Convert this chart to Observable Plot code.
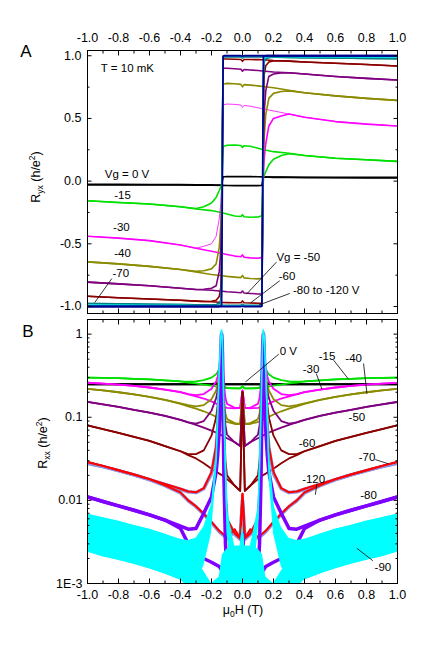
<!DOCTYPE html>
<html><head><meta charset="utf-8">
<script src="https://cdn.jsdelivr.net/npm/d3@7"></script>
<script src="https://cdn.jsdelivr.net/npm/@observablehq/plot@0.6"></script>
<style>
body{margin:0;background:#fff;}
#fig{position:relative;width:436px;height:648px;background:#fff;}
#fig svg{display:block;}
</style></head><body><div id="fig"></div>
<script>
// ---------------- tick values / labels ----------------
const xMajor = [-1.0, -0.8, -0.6, -0.4, -0.2, 0.0, 0.2, 0.4, 0.6, 0.8, 1.0];
const xMinor = [-0.9, -0.7, -0.5, -0.3, -0.1, 0.1, 0.3, 0.5, 0.7, 0.9];
const yMajorA = [-1.0, -0.5, 0.0, 0.5, 1.0];
const yMinorA = [-0.75, -0.25, 0.25, 0.75];
const yMajorB = [0.001, 0.01, 0.1, 1];
const yMajorBLabels = ["1E-3", "0.01", "0.1", "1"];
const yMinorB = [0.002,0.003,0.004,0.005,0.006,0.007,0.008,0.009,
                 0.02,0.03,0.04,0.05,0.06,0.07,0.08,0.09,
                 0.2,0.3,0.4,0.5,0.6,0.7,0.8,0.9];

// ---------------- panel A : Ryx (h/e^2) ----------------
const XA_dn = [-1, -0.8, -0.6, -0.4, -0.3, -0.25, -0.2, -0.17, -0.15, -0.14, -0.135, -0.13, -0.125, -0.12, -0.1, -0.05, -0.01, 0, 0.01, 0.05, 0.1, 0.13, 0.2, 0.3, 0.4, 0.6, 0.8, 1];
const XA_up = [1, 0.8, 0.6, 0.4, 0.3, 0.25, 0.2, 0.17, 0.15, 0.14, 0.135, 0.13, 0.125, 0.12, 0.1, 0.05, 0.01, 0, -0.01, -0.05, -0.1, -0.13, -0.2, -0.3, -0.4, -0.6, -0.8, -1];

const A_black_dn = [-0.025, -0.026, -0.027, -0.028, -0.029, -0.03, -0.03, -0.031, -0.032, -0.032, -0.032, 0, 0.035, 0.035, 0.036, 0.036, 0.036, 0.036, 0.036, 0.036, 0.035, 0.034, 0.033, 0.032, 0.031, 0.03, 0.03, 0.03];
const A_black_up = [0.025, 0.026, 0.027, 0.028, 0.029, 0.03, 0.03, 0.031, 0.032, 0.032, 0.032, 0, -0.035, -0.035, -0.036, -0.036, -0.036, -0.036, -0.036, -0.036, -0.035, -0.034, -0.033, -0.032, -0.031, -0.03, -0.03, -0.03];
const A_green_dn = [-0.157, -0.17, -0.183, -0.205, -0.218, -0.205, -0.175, -0.13, -0.075, -0.045, -0.03, 0.1, 0.27, 0.278, 0.286, 0.288, 0.284, 0.268, 0.282, 0.278, 0.262, 0.252, 0.235, 0.222, 0.205, 0.183, 0.17, 0.157];
const A_green_up = [0.157, 0.17, 0.183, 0.205, 0.218, 0.205, 0.175, 0.13, 0.075, 0.045, 0.03, -0.1, -0.27, -0.278, -0.286, -0.288, -0.284, -0.268, -0.282, -0.278, -0.262, -0.252, -0.235, -0.222, -0.205, -0.183, -0.17, -0.157];
const A_magenta_dn = [-0.44, -0.455, -0.475, -0.51, -0.535, -0.52, -0.5, -0.44, -0.3, -0.18, -0.06, 0.3, 0.6, 0.61, 0.615, 0.612, 0.607, 0.588, 0.603, 0.598, 0.585, 0.577, 0.56, 0.535, 0.51, 0.475, 0.455, 0.44];
const A_magenta_up = [0.44, 0.455, 0.475, 0.51, 0.535, 0.52, 0.5, 0.44, 0.3, 0.18, 0.06, -0.3, -0.6, -0.61, -0.615, -0.612, -0.607, -0.588, -0.603, -0.598, -0.585, -0.577, -0.56, -0.535, -0.51, -0.475, -0.455, -0.44];
const A_olive_dn = [-0.644, -0.66, -0.68, -0.705, -0.72, -0.715, -0.70, -0.66, -0.53, -0.35, -0.15, 0.3, 0.77, 0.775, 0.78, 0.777, 0.772, 0.752, 0.77, 0.766, 0.76, 0.755, 0.745, 0.725, 0.705, 0.68, 0.66, 0.644];
const A_olive_up = [0.644, 0.66, 0.68, 0.705, 0.72, 0.715, 0.70, 0.66, 0.53, 0.35, 0.15, -0.3, -0.77, -0.775, -0.78, -0.777, -0.772, -0.752, -0.77, -0.766, -0.76, -0.755, -0.745, -0.725, -0.705, -0.68, -0.66, -0.644];
const A_purple_dn = [-0.806, -0.82, -0.835, -0.855, -0.864, -0.862, -0.855, -0.835, -0.72, -0.55, -0.3, 0.3, 0.895, 0.9, 0.9, 0.896, 0.892, 0.877, 0.89, 0.887, 0.882, 0.878, 0.87, 0.864, 0.855, 0.835, 0.82, 0.806];
const A_purple_up = [0.806, 0.82, 0.835, 0.855, 0.864, 0.862, 0.855, 0.835, 0.72, 0.55, 0.3, -0.3, -0.895, -0.9, -0.9, -0.896, -0.892, -0.877, -0.89, -0.887, -0.882, -0.878, -0.87, -0.864, -0.855, -0.835, -0.82, -0.806];
const A_darkred_dn = [-0.918, -0.93, -0.94, -0.95, -0.957, -0.96, -0.958, -0.95, -0.92, -0.85, -0.6, 0.3, 0.972, 0.974, 0.974, 0.972, 0.97, 0.956, 0.97, 0.97, 0.969, 0.968, 0.962, 0.957, 0.95, 0.94, 0.93, 0.918];
const A_darkred_up = [0.918, 0.93, 0.94, 0.95, 0.957, 0.96, 0.958, 0.95, 0.92, 0.85, 0.6, -0.3, -0.972, -0.974, -0.974, -0.972, -0.97, -0.956, -0.97, -0.97, -0.969, -0.968, -0.962, -0.957, -0.95, -0.94, -0.93, -0.918];
const A_teal_dn = [-0.976, -0.979, -0.982, -0.985, -0.987, -0.988, -0.988, -0.985, -0.975, -0.95, -0.8, 0.3, 0.99, 0.991, 0.991, 0.99, 0.99, 0.982, 0.99, 0.99, 0.99, 0.99, 0.988, 0.987, 0.985, 0.982, 0.979, 0.976];
const A_teal_up = [0.976, 0.979, 0.982, 0.985, 0.987, 0.988, 0.988, 0.985, 0.975, 0.95, 0.8, -0.3, -0.99, -0.991, -0.991, -0.99, -0.99, -0.982, -0.99, -0.99, -0.99, -0.99, -0.988, -0.987, -0.985, -0.982, -0.979, -0.976];
const A_cyan_dn = [-0.99, -0.99, -0.991, -0.992, -0.993, -0.993, -0.993, -0.992, -0.99, -0.98, -0.9, 0.3, 0.995, 0.995, 0.995, 0.995, 0.995, 0.99, 0.995, 0.995, 0.995, 0.995, 0.994, 0.993, 0.992, 0.991, 0.99, 0.99];
const A_cyan_up = [0.99, 0.99, 0.991, 0.992, 0.993, 0.993, 0.993, 0.992, 0.99, 0.98, 0.9, -0.3, -0.995, -0.995, -0.995, -0.995, -0.995, -0.99, -0.995, -0.995, -0.995, -0.995, -0.994, -0.993, -0.992, -0.991, -0.99, -0.99];
const A_navy_dn = [-1, -1, -1, -1, -1, -1, -1, -1, -1, -0.998, -0.99, 0, 0.998, 1, 1, 1, 1, 0.998, 1, 1, 1, 1, 1, 1, 1, 1, 1, 1];
const A_navy_up = [1, 1, 1, 1, 1, 1, 1, 1, 1, 0.998, 0.99, 0, -0.998, -1, -1, -1, -1, -0.998, -1, -1, -1, -1, -1, -1, -1, -1, -1, -1];

const annotA = [
  {x: -0.914, y: 0.90, t: "T = 10 mK"},
  {x: -0.888, y: 0.056, t: "Vg = 0 V"},
  {x: -0.828, y: -0.112, t: "-15"},
  {x: -0.835, y: -0.372, t: "-30"},
  {x: -0.828, y: -0.572, t: "-40"},
  {x: -0.839, y: -0.737, t: "-70"},
  {x: 0.219, y: -0.606, t: "Vg = -50"},
  {x: 0.234, y: -0.758, t: "-60"},
  {x: 0.326, y: -0.870, t: "-80 to -120 V"}
];
const leadersA = [
  {x1: -0.843, y1: -0.777, x2: -0.953, y2: -0.968},
  {x1: 0.219, y1: -0.646, x2: 0.026, y2: -0.902},
  {x1: 0.24, y1: -0.795, x2: 0.052, y2: -0.971},
  {x1: 0.305, y1: -0.896, x2: 0.105, y2: -0.989}
];

// ---------------- panel B : Rxx (h/e^2), log ----------------
const XB_dn = [-1, -0.9, -0.8, -0.7, -0.6, -0.5, -0.4, -0.35, -0.3, -0.25, -0.2, -0.17, -0.16, -0.15, -0.14, -0.135, -0.13, -0.12, -0.11, -0.1, -0.05, -0.015, 0, 0.015, 0.05, 0.1, 0.13, 0.15, 0.2, 0.25, 0.3, 0.35, 0.4, 0.5, 0.6, 0.7, 0.8, 0.9, 1];
const XB_up = [1, 0.9, 0.8, 0.7, 0.6, 0.5, 0.4, 0.35, 0.3, 0.25, 0.2, 0.17, 0.16, 0.15, 0.14, 0.135, 0.13, 0.12, 0.11, 0.1, 0.05, 0.015, 0, -0.015, -0.05, -0.1, -0.13, -0.15, -0.2, -0.25, -0.3, -0.35, -0.4, -0.5, -0.6, -0.7, -0.8, -0.9, -1];

const B_black = [0.25, 0.25, 0.25, 0.25, 0.25, 0.25, 0.25, 0.25, 0.25, 0.25,
  0.252, 0.255, 0.258, 0.262, 0.268, 0.272, 0.262, 0.252, 0.25,
  0.25, 0.25, 0.25, 0.25, 0.25, 0.25, 0.25, 0.25, 0.25, 0.25, 0.25,
  0.25, 0.25, 0.25, 0.25, 0.25, 0.25, 0.25, 0.25, 0.25];
const B_green = [0.30, 0.298, 0.295, 0.29, 0.285, 0.278, 0.27, 0.268, 0.27, 0.28,
  0.30, 0.33, 0.35, 0.38, 0.42, 0.43, 0.4, 0.25, 0.23, 0.225,
  0.222, 0.222, 0.235, 0.222, 0.222, 0.224, 0.226, 0.23, 0.24, 0.247,
  0.255, 0.262, 0.27, 0.278, 0.285, 0.29, 0.295, 0.298, 0.30];
const B_magenta = [0.26, 0.254, 0.247, 0.238, 0.228, 0.215, 0.2, 0.19, 0.185, 0.19,
  0.22, 0.27, 0.31, 0.4, 0.6, 0.68, 0.55, 0.25, 0.17, 0.145,
  0.13, 0.13, 0.21, 0.13, 0.128, 0.13, 0.135, 0.14, 0.155, 0.168,
  0.178, 0.188, 0.2, 0.215, 0.228, 0.238, 0.247, 0.254, 0.26];
const B_olive = [0.22, 0.21, 0.2, 0.188, 0.176, 0.162, 0.147, 0.14, 0.135, 0.14,
  0.165, 0.21, 0.25, 0.32, 0.48, 0.55, 0.45, 0.18, 0.11, 0.095,
  0.085, 0.083, 0.2, 0.083, 0.083, 0.088, 0.093, 0.097, 0.108, 0.118,
  0.127, 0.135, 0.145, 0.162, 0.176, 0.188, 0.2, 0.21, 0.22];
const B_purple = [0.153, 0.143, 0.133, 0.123, 0.114, 0.104, 0.093, 0.087, 0.084, 0.09,
  0.12, 0.17, 0.21, 0.3, 0.6, 0.85, 0.7, 0.15, 0.08, 0.062,
  0.05, 0.045, 0.2, 0.045, 0.05, 0.056, 0.06, 0.063, 0.069, 0.075,
  0.081, 0.087, 0.093, 0.104, 0.114, 0.123, 0.133, 0.143, 0.153];
const B_darkred = [0.08, 0.072, 0.065, 0.058, 0.052, 0.045, 0.039, 0.036, 0.036, 0.04,
  0.06, 0.1, 0.14, 0.25, 0.6, 0.95, 0.8, 0.1, 0.03, 0.02,
  0.015, 0.013, 0.2, 0.013, 0.015, 0.018, 0.02, 0.021, 0.024, 0.028,
  0.032, 0.035, 0.039, 0.045, 0.052, 0.058, 0.065, 0.072, 0.08];
const B_lavender = [0.028, 0.0255, 0.0228, 0.0203, 0.0178, 0.0156, 0.0136, 0.0127, 0.0124, 0.0138,
  0.021, 0.043, 0.075, 0.19, 0.65, 1.0, 0.75, 0.045, 0.011, 0.0058,
  0.0039, 0.0034, 0.01, 0.0034, 0.0042, 0.0035, 0.0039, 0.0042, 0.0054, 0.0068,
  0.0084, 0.0099, 0.0123, 0.015, 0.0178, 0.0203, 0.0228, 0.0255, 0.028];
const B_red = [0.029, 0.026, 0.023, 0.0205, 0.018, 0.0158, 0.0138, 0.0128, 0.0125, 0.014,
  0.022, 0.045, 0.08, 0.2, 0.7, 1.05, 0.8, 0.05, 0.012, 0.006,
  0.004, 0.0035, 0.012, 0.0035, 0.0045, 0.0036, 0.004, 0.0043, 0.0055, 0.0069,
  0.0085, 0.01, 0.0125, 0.0152, 0.018, 0.0205, 0.023, 0.026, 0.029];
const B_violet = [0.011, 0.0097, 0.0086, 0.0076, 0.0067, 0.0058, 0.0049, 0.0045, 0.0046, 0.007,
  0.011, 0.022, 0.035, 0.07, 0.4, 1.0, 0.6, 0.02, 0.003, 0.0015,
  0.0012, 0.0012, 0.004, 0.0012, 0.0012, 0.0013, 0.0014, 0.0016, 0.0018, 0.002,
  0.0022, 0.003, 0.0046, 0.0058, 0.0067, 0.0076, 0.0086, 0.0097, 0.011];
const B_cyan = [0.0052, 0.0047, 0.0043, 0.0039, 0.0035, 0.003, 0.0026, 0.0025, 0.0027, 0.0036,
  0.0075, 0.03, 0.1, 0.35, 0.95, 1.12, 0.9, 0.12, 0.025, 0.006,
  0.0016, 0.0015, 0.004, 0.0015, 0.0015, 0.0014, 0.0013, 0.0009, 0.0008, 0.0011,
  0.0015, 0.002, 0.0025, 0.003, 0.0035, 0.0039, 0.0043, 0.0047, 0.0052];
const B_cyanHi = [0.0068, 0.0062, 0.0056, 0.005, 0.0045, 0.0039, 0.0034, 0.0033, 0.0035, 0.0048,
  0.009, 0.035, 0.11, 0.38, 1.0, 1.15, 0.95, 0.14, 0.03, 0.008,
  0.0028, 0.0028, 0.005, 0.0028, 0.0028, 0.0026, 0.0022, 0.0012, 0.001, 0.0014,
  0.002, 0.0026, 0.0033, 0.0039, 0.0045, 0.005, 0.0056, 0.0062, 0.0068];
const B_cyanLo = [0.0024, 0.0021, 0.0019, 0.0017, 0.0015, 0.0013, 0.0011, 0.001, 0.0011, 0.0016,
  0.004, 0.02, 0.08, 0.3, 0.9, 1.08, 0.85, 0.1, 0.018, 0.004,
  0.0006, 0.0006, 0.0008, 0.0006, 0.0006, 0.0006, 0.0006, 0.0005, 0.0005, 0.0006,
  0.0007, 0.0009, 0.0011, 0.0013, 0.0015, 0.0017, 0.0019, 0.0021, 0.0024];

const annotB = [
  {x: 0.545, y: 0.548, t: "-15"},
  {x: 0.442, y: 0.382, t: "-30"},
  {x: 0.717, y: 0.518, t: "-40"},
  {x: 0.738, y: 0.100, t: "-50"},
  {x: 0.416, y: 0.048, t: "-60"},
  {x: 0.803, y: 0.033, t: "-70"},
  {x: 0.459, y: 0.0178, t: "-120"},
  {x: 0.813, y: 0.0114, t: "-80"},
  {x: 0.906, y: 0.00156, t: "-90"}
];
const annotB0 = [{x: 0.240, y: 0.624, t: "0 V"}];
const leadersB = [
  {x1: 0.234, y1: 0.574, x2: 0.019, y2: 0.266},
  {x1: 0.588, y1: 0.486, x2: 0.684, y2: 0.287},
  {x1: 0.476, y1: 0.336, x2: 0.513, y2: 0.217},
  {x1: 0.781, y1: 0.443, x2: 0.803, y2: 0.192},
  {x1: 0.856, y1: 0.031, x2: 0.942, y2: 0.0275},
  {x1: 0.48, y1: 0.0158, x2: 0.47, y2: 0.0117},
  {x1: 0.841, y1: 0.00188, x2: 0.738, y2: 0.00265}
];

// ---------------- build ----------------
const FONT = "'Liberation Sans', Arial, Helvetica, sans-serif";
const sweep = (xs, ys) => xs.map((x, i) => ({x, y: ys[i]}));
const fmt1 = d => d.toFixed(1);
const blank = () => "";

const seriesA = [
  {c: "#000000", dn: A_black_dn, up: A_black_up, wd: 1.6, wu: 1.6},
  {c: "#00e000", dn: A_green_dn, up: A_green_up, wd: 1.6, wu: 1.6},
  {c: "#ff00ff", dn: A_magenta_dn, up: A_magenta_up, wd: 0.8, wu: 1.6},
  {c: "#8b8b00", dn: A_olive_dn, up: A_olive_up, wd: 1.6, wu: 1.6},
  {c: "#800080", dn: A_purple_dn, up: A_purple_up, wd: 1.6, wu: 1.6},
  {c: "#8b0000", dn: A_darkred_dn, up: A_darkred_up, wd: 1.6, wu: 1.6},
  {c: "#008080", dn: A_teal_dn, up: A_teal_up, wd: 1.6, wu: 1.6},
  {c: "#00e0e0", dn: A_cyan_dn, up: A_cyan_up, wd: 1.4, wu: 1.4},
  {c: "#000090", dn: A_navy_dn, up: A_navy_up, wd: 1.8, wu: 1.8}
];

function frameTicks(xTicksMaj, xTicksMin, yMaj, yMin) {
  const m = [];
  for (const a of ["top", "bottom"]) {
    m.push(Plot.axisX({anchor: a, ticks: xTicksMaj, tickSize: -4.5, tickFormat: blank, label: null}));
    m.push(Plot.axisX({anchor: a, ticks: xTicksMin, tickSize: -2.5, tickFormat: blank, label: null}));
  }
  for (const a of ["left", "right"]) {
    m.push(Plot.axisY({anchor: a, ticks: yMaj, tickSize: -4.5, tickFormat: blank, label: null}));
    m.push(Plot.axisY({anchor: a, ticks: yMin, tickSize: -2.5, tickFormat: blank, label: null}));
  }
  return m;
}

const marksA = [];
for (const s of seriesA) {
  marksA.push(Plot.line(sweep(XA_dn, s.dn), {x: "x", y: "y", stroke: s.c, strokeWidth: s.wd, clip: true}));
  marksA.push(Plot.line(sweep(XA_up, s.up), {x: "x", y: "y", stroke: s.c, strokeWidth: s.wu, clip: true}));
}
marksA.push(
  Plot.link(leadersA, {x1: "x1", y1: "y1", x2: "x2", y2: "y2", stroke: "black", strokeWidth: 0.8}),
  Plot.text(annotA, {x: "x", y: "y", text: "t", textAnchor: "start", fontSize: 11.5, fill: "black"}),
  Plot.frame({stroke: "black", strokeWidth: 1}),
  Plot.axisX({anchor: "top", ticks: xMajor, tickSize: 0, tickPadding: 9, tickFormat: fmt1, label: null}),
  Plot.axisY({anchor: "left", ticks: yMajorA, tickSize: 0, tickPadding: 6, tickFormat: fmt1, label: null}),
  ...frameTicks(xMajor, xMinor, yMajorA, yMinorA)
);

const plotA = Plot.plot({
  width: 436, height: 316,
  marginTop: 50, marginBottom: 3, marginLeft: 87, marginRight: 39,
  x: {domain: [-1, 1], label: null},
  y: {domain: [-1.056, 1.042], label: null},
  style: {fontFamily: FONT, fontSize: "12.5px", color: "black", background: "white", overflow: "visible"},
  marks: marksA
});

const seriesB = [
  {c: "#000000", v: B_black, w: 2},
  {c: "#00e000", v: B_green, w: 1.8},
  {c: "#ff00ff", v: B_magenta, w: 1.8},
  {c: "#8b8b00", v: B_olive, w: 1.8},
  {c: "#800080", v: B_purple, w: 1.8},
  {c: "#8b0000", v: B_darkred, w: 1.8},
  {c: "#9090e0", v: B_lavender, w: 3.5},
  {c: "#ff0000", v: B_red, w: 2},
  {c: "#8000ff", v: B_violet, w: 3.5},
  {c: "#00ffff", v: B_cyan, w: 1.6}
];
const marksB = [];
for (const s of seriesB) {
  if (s.v === B_cyan) {
    marksB.push(Plot.areaY(XB_dn.map((x, i) => ({x, lo: B_cyanLo[i], hi: B_cyanHi[i]})), {x: "x", y1: "lo", y2: "hi", fill: "#00ffff", clip: true}));
    marksB.push(Plot.areaY(XB_up.map((x, i) => ({x, lo: B_cyanLo[i], hi: B_cyanHi[i]})), {x: "x", y1: "lo", y2: "hi", fill: "#00ffff", clip: true}));
  }
  marksB.push(Plot.line(sweep(XB_dn, s.v), {x: "x", y: "y", stroke: s.c, strokeWidth: s.w, clip: true}));
  marksB.push(Plot.line(sweep(XB_up, s.v), {x: "x", y: "y", stroke: s.c, strokeWidth: s.w, clip: true}));
}
marksB.push(
  Plot.link(leadersB, {x1: "x1", y1: "y1", x2: "x2", y2: "y2", stroke: "black", strokeWidth: 0.8}),
  Plot.text(annotB, {x: "x", y: "y", text: "t", textAnchor: "middle", fontSize: 11.5, fill: "black"}),
  Plot.text(annotB0, {x: "x", y: "y", text: "t", textAnchor: "start", fontSize: 11.5, fill: "black"}),
  Plot.frame({stroke: "black", strokeWidth: 1}),
  Plot.axisX({anchor: "bottom", ticks: xMajor, tickSize: 0, tickPadding: 7, tickFormat: fmt1, label: null}),
  Plot.axisY({anchor: "left", ticks: yMajorB, tickSize: 0, tickPadding: 5, tickFormat: d => yMajorBLabels[yMajorB.indexOf(d)], label: null}),
  ...frameTicks(xMajor, xMinor, yMajorB, yMinorB)
);

const plotB = Plot.plot({
  width: 436, height: 332,
  marginTop: 3, marginBottom: 65, marginLeft: 87, marginRight: 39,
  x: {domain: [-1, 1], label: null},
  y: {type: "log", domain: [0.001, 1.5], label: null},
  style: {fontFamily: FONT, fontSize: "12.5px", color: "black", background: "white", overflow: "visible"},
  marks: marksB
});

const fig = document.getElementById("fig");
fig.appendChild(plotA);
fig.appendChild(plotB);

// titles with sub/superscripts, as real text
function label(svg, x, y, rot, parts, size) {
  const t = d3.select(svg).append("text")
    .attr("transform", `translate(${x},${y})` + (rot ? ` rotate(${rot})` : ""))
    .attr("text-anchor", "middle").attr("fill", "black")
    .attr("font-family", FONT).attr("font-size", size);
  for (const p of parts) {
    const s = t.append("tspan").text(p.t);
    if (p.dy) s.attr("dy", p.dy);
    if (p.fs) s.attr("font-size", p.fs);
  }
  return t;
}
label(plotA, 40, 177, -90, [{t: "R"}, {t: "yx", fs: 8.5, dy: 3}, {t: " (h/e", dy: -3}, {t: "2", fs: 8.5, dy: -5}, {t: ")", dy: 5}], 12.5);
label(plotB, 47, 127, -90, [{t: "R"}, {t: "xx", fs: 8.5, dy: 3}, {t: " (h/e", dy: -3}, {t: "2", fs: 8.5, dy: -5}, {t: ")", dy: 5}], 12.5);
label(plotB, 243, 298, 0, [{t: "μ"}, {t: "0", fs: 8.5, dy: 3}, {t: "H (T)", dy: -3}], 12.5);
d3.select(plotA).append("text").attr("x", 26).attr("y", 57).attr("font-family", FONT).attr("font-size", 17).attr("fill", "black").text("A");
d3.select(plotB).append("text").attr("x", 28).attr("y", 21).attr("font-family", FONT).attr("font-size", 17).attr("fill", "black").text("B");
</script></body></html>
